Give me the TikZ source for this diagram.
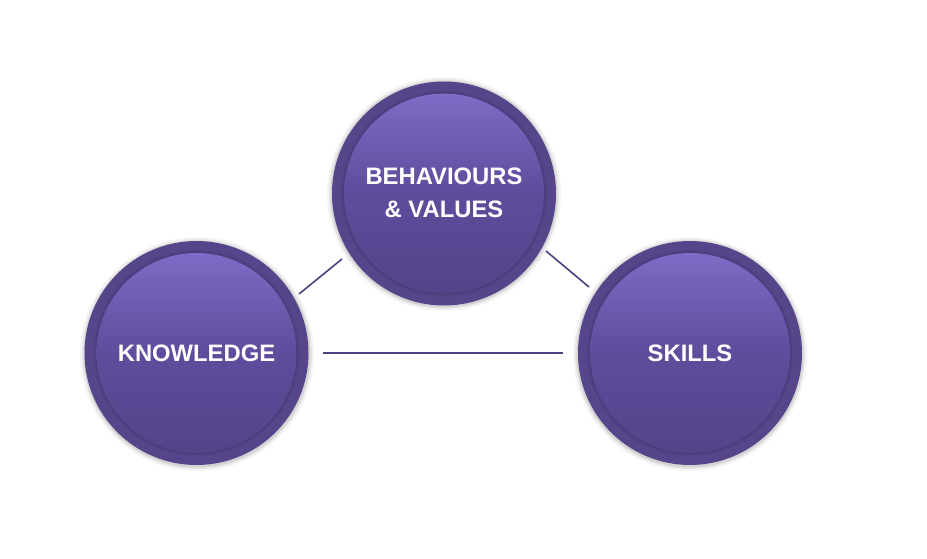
\documentclass[tikz,border=0pt]{standalone}
\usepackage{fontspec}
\setmainfont{Liberation Sans}
\begin{document}
\begin{tikzpicture}[x=1pt,y=-1pt,
  ring/.style={circle, fill=ringcol, minimum size=224pt, inner sep=0pt},
  core/.style={circle, minimum size=200pt, inner sep=0pt, top color=coretop, bottom color=corebot, middle color=coremid},
  lbl/.style={text=white, font=\bfseries\fontsize{23.8}{33}\selectfont, align=center},
  link/.style={draw=linecol, line width=1.6pt}]
\definecolor{ringcol}{HTML}{56458A}
\definecolor{coretop}{HTML}{7D6BC6}
\definecolor{coremid}{HTML}{5F4C9C}
\definecolor{corebot}{HTML}{55438A}
\definecolor{linecol}{HTML}{4E4080}
\useasboundingbox (0,0) rectangle (927,559);
\fill[white] (0,0) rectangle (927,559);
% soft shadows
\foreach \c in {(444,194),(197,354),(690,354)}{
  \foreach \r/\o in {117/0.04,115/0.06,113.5/0.08}{
    \fill[black,opacity=\o] \c circle (\r);
  }
}
\node[ring] (tr) at (444,193.5) {};
\node[ring] (lr) at (196.5,353) {};
\node[ring] (rr) at (690,353) {};
\foreach \p in {{(444,193.5)},{(196.5,353)},{(690,353)}}{
  \foreach \r in {103,102,101}{
    \fill[black,opacity=0.035] \p circle (\r);
  }
}
\node[core] (tc) at (444,193.5) {};
\node[core] (lc) at (196.5,353) {};
\node[core] (rc) at (690,353) {};
\node[lbl] (tl) at (444,193) {BEHAVIOURS\\\& VALUES};
\node[lbl] (ll) at (196.5,353) {KNOWLEDGE};
\node[lbl] (rl) at (690,353) {SKILLS};
\coordinate (a1) at (299,294);
\coordinate (a2) at (342,259);
\coordinate (b1) at (546,251);
\coordinate (b2) at (589,287);
\coordinate (c1) at (323,353);
\coordinate (c2) at (563,353);
\draw[link] (a1) -- (a2);
\draw[link] (b1) -- (b2);
\draw[link] (c1) -- (c2);
\end{tikzpicture}
\end{document}
